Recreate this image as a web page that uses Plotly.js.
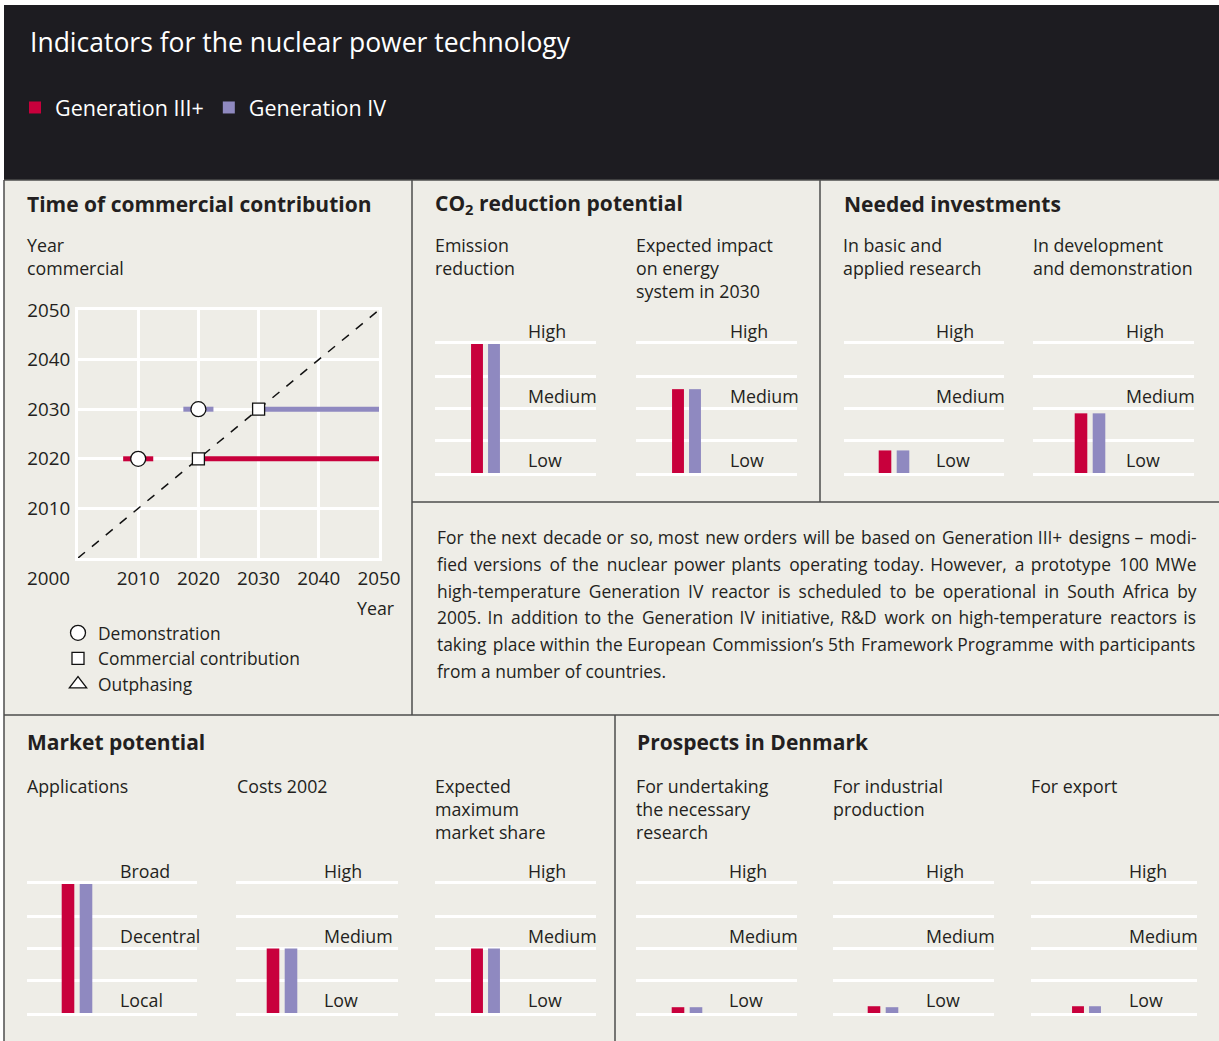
<!DOCTYPE html>
<html><head><meta charset="utf-8">
<script src="https://cdn.plot.ly/plotly-3.0.1.min.js"></script>
<style>html,body{margin:0;padding:0;background:#fff}</style>
</head><body><div id="chart" style="width:1219px;height:1041px"></div>
<script>
// ---------------- DATA ----------------
const seriesNames = ['Generation III+', 'Generation IV'];

// Time of commercial contribution
const yearTicks = [2000, 2010, 2020, 2030, 2040, 2050];
const demoYear = [2010, 2020];
const commercialYear = [2020, 2030];
const demoBandStart = [2007.5, 2017.5];
const demoBandEnd = [2012.5, 2022.5];
const milestoneNames = ['Demonstration', 'Commercial contribution', 'Outphasing'];

// Indicator bar charts (level scale 0 = Low ... 4 = High)
const panelTitles = ['Time of commercial contribution', 'CO<sub>2</sub> reduction potential', 'Needed investments', 'Market potential', 'Prospects in Denmark'];
const indicatorNames = ['Emission<br>reduction', 'Expected impact<br>on energy<br>system in 2030', 'In basic and<br>applied research', 'In development<br>and demonstration', 'Applications', 'Costs 2002', 'Expected<br>maximum<br>market share', 'For undertaking<br>the necessary<br>research', 'For industrial<br>production', 'For export'];
const gen3Level = [4, 2.6, 0.7, 1.85, 4, 2, 2, 0.18, 0.21, 0.21];
const gen4Level = [4, 2.6, 0.7, 1.85, 4, 2, 2, 0.18, 0.18, 0.21];
const levelTicks = [0, 1, 2, 3, 4];
const labelLevels = [0, 2, 4];
const levelLabels = ['Low', 'Medium', 'High'];
const applicationLabels = ['Local', 'Decentral', 'Broad'];

const paragraphLines = [
  'For the next decade or so, most new orders will be based on Generation III+ designs – modi-',
  'fied versions of the nuclear power plants operating today. However, a prototype 100 MWe',
  'high-temperature Generation IV reactor is scheduled to be operational in South Africa by',
  '2005. In addition to the Generation IV initiative, R&D work on high-temperature reactors is',
  'taking place within the European Commission’s 5th Framework Programme with participants',
  'from a number of countries.'
];

// ---------------- LAYOUT HELPERS ----------------
const W = 1219, H = 1041;
const px = x => x / W;
const py = y => 1 - y / H;
const COLORS = ['#c8003c', '#8f89c0'];
const INK = '#231f20';
const BG = '#eeede7';
const HEAD = '#1d1c21';
const FAMILY = 'Open Sans';
const FONT = '"Open Sans", sans-serif';
const TXT = 17.8;

// justify paragraph lines with hair spaces (measured with canvas)
const mctx = document.createElement('canvas').getContext('2d');
function textWidth(t, size) { mctx.font = size + 'px "' + FAMILY + '"'; return mctx.measureText(t).width; }
function justify(line, target, size) {
  const words = line.split(' ');
  const gaps = words.length - 1;
  const natural = textWidth(line, size);
  const hair = textWidth('\u200A', size);
  if (gaps <= 0 || natural >= target || hair <= 0.1) return line;
  const total = Math.round((target - natural) / hair);
  let out = words[0];
  for (let i = 1; i < words.length; i++) {
    const n = Math.round(total * i / gaps) - Math.round(total * (i - 1) / gaps);
    out += ' ' + '\u200A'.repeat(n) + words[i];
  }
  return out;
}
const esc = s => s.replace(/&/g, '&amp;');

// geometry of each small chart (pixels)
const geo = [
  {L:435, R:596, c:477, u:17, lab:528, top:344, bot:473, sx:435, sy:231},
  {L:636, R:797, c:678, u:17, lab:730, top:344, bot:473, sx:636, sy:231},
  {L:844, R:1004, c:885, u:18, lab:936, top:344, bot:473, sx:843, sy:231},
  {L:1033, R:1194, c:1081, u:18, lab:1126, top:344, bot:473, sx:1033, sy:231},
  {L:27, R:197, c:68, u:18, lab:120, top:884, bot:1013, sx:27, sy:772},
  {L:236, R:398, c:273, u:18, lab:324, top:884, bot:1013, sx:237, sy:772},
  {L:435, R:596, c:477, u:17, lab:528, top:884, bot:1013, sx:435, sy:772},
  {L:636, R:797, c:678, u:18, lab:729, top:884, bot:1013, sx:636, sy:772},
  {L:833, R:994, c:874, u:18, lab:926, top:884, bot:1013, sx:833, sy:772},
  {L:1031, R:1197, c:1078, u:17, lab:1129, top:884, bot:1013, sx:1031, sy:772}
];
const panelTitlePos = [[27,204],[435,204],[844,204],[27,742],[637,742]];
const AX = -2; // annotation text inset correction

const traces = [];
const layout = {
  width: W, height: H,
  margin: {l:0, r:0, t:0, b:0},
  paper_bgcolor: '#ffffff',
  plot_bgcolor: 'rgba(0,0,0,0)',
  font: {family: FONT, color: INK, size: TXT},
  hovermode: false,
  barmode: 'overlay',
  bargap: 0.3,
  title: {text: 'Indicators for the nuclear power technology', x: px(30), xanchor: 'left', xref: 'paper',
          y: py(43), yanchor: 'middle', yref: 'paper', font: {family: FONT, size: 26.5, color: '#ffffff'}},
  legend: {orientation: 'h', x: px(15), y: py(87), xanchor: 'left', yanchor: 'top',
           bgcolor: 'rgba(0,0,0,0)', font: {family: FONT, size: 21.5, color: '#ffffff'}, traceorder: 'normal'},
  legend2: {orientation: 'v', x: px(58), y: py(615), xanchor: 'left', yanchor: 'top',
           bgcolor: 'rgba(0,0,0,0)', font: {family: FONT, size: 17.4, color: INK}, tracegroupgap: 0},
  shapes: [],
  annotations: []
};

// background + panels
layout.shapes.push({type:'rect', xref:'paper', yref:'paper', x0:px(4), x1:1, y0:0, y1:py(180), fillcolor:BG, line:{width:0}, layer:'below'});
layout.shapes.push({type:'rect', xref:'paper', yref:'paper', x0:px(4), x1:1, y0:py(180), y1:py(5), fillcolor:HEAD, line:{width:0}, layer:'below'});
const borders = [
  [4,180,4,1041],[4,180,1219,180],[412,180,412,715],[820,180,820,502],
  [412,502,1219,502],[4,715,1219,715],[615,715,615,1041]
];
borders.forEach(b => layout.shapes.push({type:'line', xref:'paper', yref:'paper',
  x0:px(b[0]), y0:py(b[1]), x1:px(b[2]), y1:py(b[3]), line:{color:'#4d4d4d', width:1.5}, layer:'below'}));

// ---------------- TIME CHART ----------------
// outer frame comes from mirrored axis lines; inner gridlines from the labelled ticks
const labelledYears = yearTicks.slice(1);
const timeAxis = {
  range: [yearTicks[0], yearTicks[yearTicks.length-1]], tickvals: labelledYears, ticktext: labelledYears.map(String),
  showgrid: true, gridcolor: '#ffffff', gridwidth: 3, zeroline: false,
  showline: true, linecolor: '#ffffff', linewidth: 3, mirror: true, ticks: '',
  tickfont: {family: FONT, size: 18.8, color: INK}, layer: 'below traces', fixedrange: true
};
layout.xaxis = Object.assign({}, timeAxis, {domain: [px(78), px(379)], anchor: 'y', ticklabelstandoff: 1});
layout.yaxis = Object.assign({}, timeAxis, {domain: [py(558), py(310)], anchor: 'x', ticklabelstandoff: 1});

traces.push({type:'scatter', mode:'lines', x:[yearTicks[0], yearTicks[yearTicks.length-1]], y:[yearTicks[0], yearTicks[yearTicks.length-1]],
  line:{color:'#111', width:1.5, dash:'dash'}, showlegend:false, xaxis:'x', yaxis:'y'});
seriesNames.forEach((n, i) => {
  traces.push({type:'scatter', mode:'lines', x:[demoBandStart[i], demoBandEnd[i]], y:[commercialYear[i], commercialYear[i]],
    line:{color:COLORS[i], width:5}, showlegend:false, xaxis:'x', yaxis:'y', name:n});
  traces.push({type:'scatter', mode:'lines', x:[commercialYear[i], yearTicks[yearTicks.length-1]], y:[commercialYear[i], commercialYear[i]],
    line:{color:COLORS[i], width:5}, showlegend:false, xaxis:'x', yaxis:'y', name:n});
});
traces.push({type:'scatter', mode:'markers', name: milestoneNames[0], x: demoYear, y: commercialYear,
  marker:{symbol:'circle', size:15, color:'#ffffff', line:{color:'#111', width:1.3}}, legend:'legend2', xaxis:'x', yaxis:'y'});
traces.push({type:'scatter', mode:'markers', name: milestoneNames[1], x: commercialYear, y: commercialYear,
  marker:{symbol:'square', size:12, color:'#ffffff', line:{color:'#111', width:1.3}}, legend:'legend2', xaxis:'x', yaxis:'y'});
traces.push({type:'scatter', mode:'markers', name: milestoneNames[2], x: [null], y: [null],
  marker:{symbol:'triangle-up', size:15, color:'#ffffff', line:{color:'#111', width:1.3}}, legend:'legend2', xaxis:'x', yaxis:'y'});

const ann = (o) => layout.annotations.push(Object.assign({showarrow:false, font:{family:FONT, size:TXT, color:INK}}, o));
ann({text:'Year<br>commercial', xref:'paper', yref:'paper', x:px(27 + AX), y:py(231), xanchor:'left', yanchor:'top', align:'left'});
ann({text:String(yearTicks[0]), xref:'paper', yref:'paper', x:px(48), y:py(578), xanchor:'center', yanchor:'middle', font:{family:FONT, size:18.8, color:INK}});
ann({text:'Year', xref:'paper', yref:'paper', x:px(396), y:py(608), xanchor:'right', yanchor:'middle'});

// panel titles
panelTitles.forEach((t, i) => ann({text:'<b>'+t+'</b>', xref:'paper', yref:'paper', x:px(panelTitlePos[i][0] + AX), y:py(panelTitlePos[i][1]),
  xanchor:'left', yanchor:'middle', font:{family:FONT, size:21, color:INK}}));

// ---------------- INDICATOR CHARTS ----------------
geo.forEach((g, k) => {
  const n = k + 2;
  const xa = 'xaxis' + n, ya = 'yaxis' + n;
  layout[xa] = {domain:[px(g.L), px(g.R)], anchor:'y'+n, type:'category', categoryorder:'array', categoryarray:seriesNames,
    range:[(g.L - g.c)/g.u, (g.R - g.c)/g.u], showticklabels:false, showgrid:false, zeroline:false, ticks:'',
    showline:true, linecolor:'#ffffff', linewidth:3, mirror:true, layer:'below traces', fixedrange:true};
  layout[ya] = {domain:[py(g.bot), py(g.top)], anchor:'x'+n, range:[levelTicks[0], levelTicks[levelTicks.length-1]],
    tickvals:levelTicks, showticklabels:false, showgrid:true, gridcolor:'#ffffff', gridwidth:3, zeroline:false,
    ticks:'', showline:false, layer:'below traces', fixedrange:true};
  const vals = [gen3Level[k], gen4Level[k]];
  seriesNames.forEach((s, i) => {
    traces.push({type:'bar', name:s, x:[s], y:[vals[i]], marker:{color:COLORS[i], line:{width:0}},
      xaxis:'x'+n, yaxis:'y'+n, legendgroup:s, showlegend:k===0, legend:'legend'});
  });
  const labels = indicatorNames[k] === 'Applications' ? applicationLabels : levelLabels;
  labelLevels.forEach((lv, j) => ann({text:labels[j], xref:'x'+n+' domain', yref:'y'+n,
    x:(g.lab + AX - g.L)/(g.R - g.L), y:lv, xanchor:'left', yanchor:'bottom', yshift:-1}));
  ann({text:indicatorNames[k], xref:'paper', yref:'paper', x:px(g.sx + AX), y:py(g.sy), xanchor:'left', yanchor:'top', align:'left'});
});

// paragraph (font sized so the longest line fits, then justified to the column width)
const PL = 437, PR = 1196;
const bodyLines = paragraphLines.slice(0, -1);
const widestAt1 = Math.max(...bodyLines.map(t => textWidth(t, 100) / 100));
const PSIZE = Math.min(18, Math.floor(((PR - PL - 6) / widestAt1) * 10) / 10);
paragraphLines.forEach((t, i) => {
  const txt = i < paragraphLines.length - 1 ? justify(t, PR - PL, PSIZE) : t;
  ann({text:esc(txt), xref:'paper', yref:'paper', x:px(PL + AX), y:py(537 + 26.8*i),
    xanchor:'left', yanchor:'middle', align:'left', font:{family:FONT, size:PSIZE, color:INK}});
});

Plotly.newPlot('chart', traces, layout, {staticPlot:true, displayModeBar:false});
</script></body></html>
